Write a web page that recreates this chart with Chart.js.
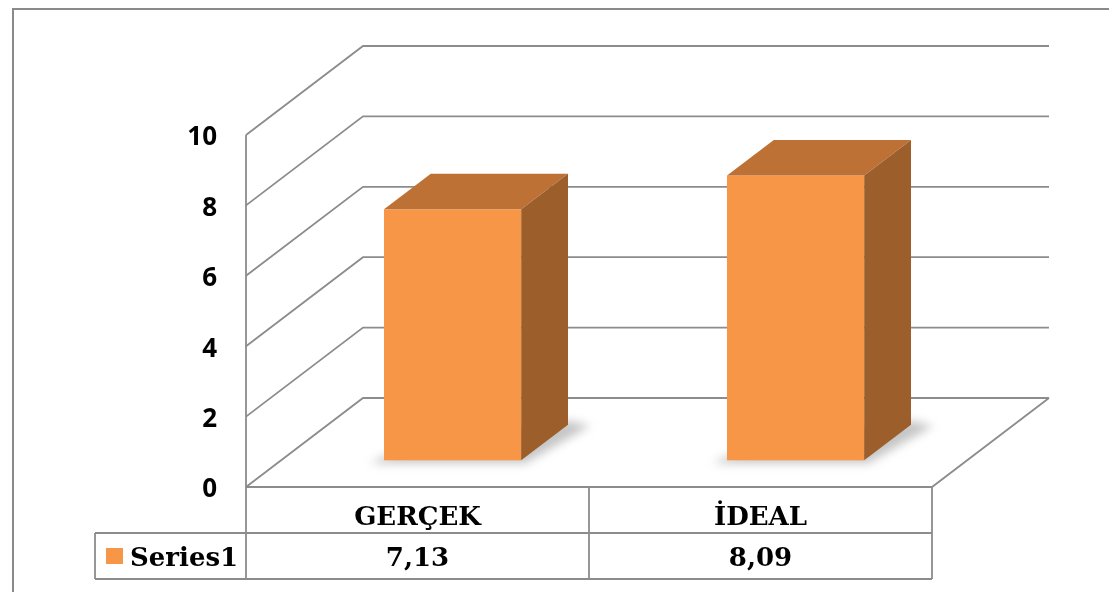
<!DOCTYPE html>
<html>
<head>
<meta charset="utf-8">
<script src="https://cdn.jsdelivr.net/npm/chart.js@4"></script>
<style>
  html,body{margin:0;padding:0;background:#fff;}
  #wrap{width:1109px;height:592px;position:relative;}
</style>
</head>
<body>
<div id="wrap"><canvas id="c" width="1109" height="592"></canvas></div>
<script>
// ---- data ----
const categories = ['GERÇEK', 'İDEAL'];
const seriesName = 'Series1';
const values = [7.13, 8.09];
const yTicks = [0, 2, 4, 6, 8, 10];

// ---- style / geometry constants ----
const DEPTH_DX = 117, DEPTH_DY = -89;      // oblique depth of the plot box
const BAR_D0 = 0.30, BAR_D1 = 0.70;        // bar position within depth
const GRID = '#8c8c8c';
const FRONT = '#F79646', TOP = '#BD7134', SIDE = '#9C5E2B';
const TABLE_FONT = 'bold 26px "DejaVu Serif", "Liberation Serif", serif';
const TICK_FONT = 'bold 26px "Open Sans", Lato, sans-serif';

const fmt = v => v.toFixed(2).replace('.', ',');

const threeD = {
  id: 'threeD',
  beforeDatasetsDraw(chart) {
    const ctx = chart.ctx;
    const ys = chart.scales.y, xs = chart.scales.x;
    const area = chart.chartArea;
    const L = area.left, R = area.right;
    ctx.save();
    // outer frame
    ctx.strokeStyle = '#8a8a8a';
    ctx.lineWidth = 2;
    ctx.strokeRect(13, 9, 1200, 700);

    ctx.strokeStyle = GRID;
    ctx.lineWidth = 1.8;
    ctx.lineJoin = 'miter';
    // gridlines on left wall and back wall
    yTicks.forEach(v => {
      const y = ys.getPixelForValue(v);
      ctx.beginPath();
      ctx.moveTo(L, y);
      ctx.lineTo(L + DEPTH_DX, y + DEPTH_DY);
      ctx.lineTo(R + DEPTH_DX, y + DEPTH_DY);
      ctx.stroke();
    });
    // floor
    const y0 = ys.getPixelForValue(0);
    ctx.beginPath();
    ctx.moveTo(L, y0);
    ctx.lineTo(R, y0);
    ctx.lineTo(R + DEPTH_DX, y0 + DEPTH_DY);
    ctx.stroke();
    // left axis line (down into table)
    ctx.beginPath();
    ctx.moveTo(L, ys.getPixelForValue(10));
    ctx.lineTo(L, 579);
    ctx.stroke();

    // tick labels
    ctx.fillStyle = '#000';
    ctx.font = TICK_FONT;
    ctx.textAlign = 'right';
    ctx.textBaseline = 'middle';
    yTicks.forEach(v => {
      ctx.fillText(String(v), 217, ys.getPixelForValue(v) + 3);
    });

    // bars
    const meta = chart.getDatasetMeta(0);
    meta.data.forEach((bar, i) => {
      const p = bar.getProps(['x', 'y', 'base', 'width'], true);
      const ox = DEPTH_DX * BAR_D0, oy = DEPTH_DY * BAR_D0;
      const dx = DEPTH_DX * (BAR_D1 - BAR_D0), dy = DEPTH_DY * (BAR_D1 - BAR_D0);
      const l = p.x - p.width / 2 + ox, r = p.x + p.width / 2 + ox;
      const t = p.y + oy, b = p.base + oy;
      // soft shadow on floor
      ctx.save();
      ctx.filter = 'blur(5px)';
      ctx.fillStyle = 'rgba(90,90,90,0.35)';
      ctx.beginPath();
      ctx.moveTo(l - 14, b + 3);
      ctx.lineTo(r + 4, b + 3);
      ctx.lineTo(r + dx + 22, b + dy + 1);
      ctx.lineTo(r + dx, b + dy - 4);
      ctx.lineTo(l, b - 4);
      ctx.closePath();
      ctx.fill();
      ctx.restore();
      // front face
      ctx.fillStyle = FRONT;
      ctx.fillRect(l, t, r - l, b - t);
      // top face
      ctx.fillStyle = TOP;
      ctx.beginPath();
      ctx.moveTo(l, t); ctx.lineTo(l + dx, t + dy);
      ctx.lineTo(r + dx, t + dy); ctx.lineTo(r, t);
      ctx.closePath(); ctx.fill();
      // side face
      ctx.fillStyle = SIDE;
      ctx.beginPath();
      ctx.moveTo(r, t); ctx.lineTo(r + dx, t + dy);
      ctx.lineTo(r + dx, b + dy); ctx.lineTo(r, b);
      ctx.closePath(); ctx.fill();
    });

    // data table
    const rowTop = y0, rowMid = 533, rowBot = 579, legL = 95;
    ctx.strokeStyle = GRID;
    ctx.lineWidth = 1.8;
    ctx.beginPath();
    ctx.moveTo(legL, rowMid); ctx.lineTo(R, rowMid);
    ctx.moveTo(legL, rowBot); ctx.lineTo(R, rowBot);
    ctx.moveTo(legL, rowMid); ctx.lineTo(legL, rowBot);
    ctx.moveTo(R, rowTop); ctx.lineTo(R, rowBot);
    const slot = (R - L) / categories.length;
    for (let i = 1; i < categories.length; i++) {
      const xx = L + slot * i;
      ctx.moveTo(xx, rowTop); ctx.lineTo(xx, rowBot);
    }
    ctx.stroke();

    ctx.fillStyle = '#000';
    ctx.font = TABLE_FONT;
    ctx.textAlign = 'center';
    ctx.textBaseline = 'alphabetic';
    categories.forEach((c, i) => {
      const cx = xs.getPixelForValue(i);
      ctx.fillText(c, cx, 525);
      ctx.fillText(fmt(values[i]), cx, 566);
    });
    // legend key
    ctx.fillStyle = FRONT;
    ctx.fillRect(106, 548, 17, 16);
    ctx.fillStyle = '#000';
    ctx.textAlign = 'left';
    ctx.fillText(seriesName, 130, 566);
    ctx.restore();
  }
};

new Chart(document.getElementById('c'), {
  type: 'bar',
  data: {
    labels: categories,
    datasets: [{
      label: seriesName,
      data: values,
      backgroundColor: 'rgba(0,0,0,0)',
      borderWidth: 0,
      barPercentage: 0.4,
      categoryPercentage: 1.0
    }]
  },
  options: {
    responsive: false,
    animation: false,
    events: [],
    layout: { padding: { left: 246, right: 177, top: 135, bottom: 105 } },
    plugins: { legend: { display: false }, tooltip: { enabled: false } },
    scales: {
      x: { display: false, offset: true },
      y: { display: false, min: 0, max: 10 }
    }
  },
  plugins: [threeD]
});
</script>
</body>
</html>
